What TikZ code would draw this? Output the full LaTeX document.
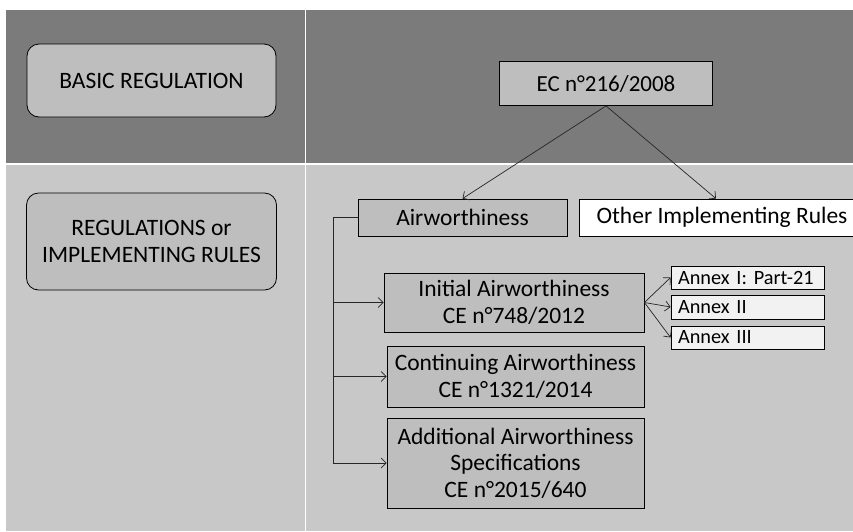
\documentclass[tikz,border=0pt]{standalone}
\usepackage{fontspec}
\setmainfont{Carlito}
\usetikzlibrary{arrows.meta,calc}
\definecolor{darkband}{HTML}{7A7B7A}
\definecolor{lightband}{HTML}{C8C8C8}
\definecolor{boxfill}{HTML}{BEBEBE}
\definecolor{annexfill}{HTML}{F2F2F2}
\tikzset{
  roundbox/.style={draw=black, line width=0.8pt, fill=boxfill, rounded corners=12pt, align=center, inner sep=0pt, font=\fontsize{23.5}{27}\selectfont},
  regbox/.style={draw=black, line width=0.8pt, fill=boxfill, align=center, inner sep=0pt, font=\fontsize{23.5}{26.5}\selectfont},
  annexbox/.style={draw=black, line width=0.8pt, fill=annexfill, inner sep=0pt, text width=139pt, align=left, font=\fontsize{20.3}{23}\selectfont},
  conn/.style={line width=0.7pt, draw=black!85},
  arr/.style={conn, -{Straight Barb[length=5pt,width=10pt]}}
}
\begin{document}
\begin{tikzpicture}[x=1pt,y=-1pt]
\useasboundingbox (0,0) rectangle (853,531);
\fill[white] (0,0) rectangle (853,531);
% bands
\fill[darkband] (6,10) rectangle (304.5,163);
\fill[darkband] (306,10) rectangle (853,163);
\fill[lightband] (6,165) rectangle (304.5,531);
\fill[lightband] (306,165) rectangle (853,531);
% left labels
\node[roundbox, minimum width=249pt, minimum height=73pt] (basic) at (151.5,80.5) {BASIC REGULATION};
\node[roundbox, minimum width=250pt, minimum height=97pt] (regs) at (151.5,241.5) {REGULATIONS or\\IMPLEMENTING RULES};
% tree
\node[regbox, minimum width=213pt, minimum height=44pt, font=\fontsize{23}{26}\selectfont] (ec) at (606,83.5) {EC n°216/2008};
\node[regbox, minimum width=209pt, minimum height=37pt] (air) at (462.5,217.5) {Airworthiness};
\node[regbox, fill=white, minimum width=286pt, minimum height=37pt] (other) at (722,217.5) {Other Implementing Rules};
\node[regbox, minimum width=260pt, minimum height=59pt] (init) at (514,302.5) {Initial Airworthiness\\CE n°748/2012};
\node[regbox, minimum width=257pt, minimum height=61pt] (cont) at (515.5,376.5) {Continuing Airworthiness\\CE n°1321/2014};
\node[regbox, minimum width=257pt, minimum height=90pt] (add) at (515.5,463) {Additional Airworthiness\\Specifications\\CE n°2015/640};
\node[annexbox, minimum width=153pt, minimum height=23pt] (a1) at (747.5,277.5) {Annex I: Part-21};
\node[annexbox, minimum width=153pt, minimum height=24pt] (a2) at (747.5,307) {Annex II};
\node[annexbox, minimum width=153pt, minimum height=23pt] (a3) at (747.5,337.5) {Annex III};
% connectors
\draw[arr] (ec.south) -- (air.north);
\coordinate (otherin) at ($(other.north)+(-6,0)$);
\draw[arr] (ec.south) -- (otherin);
\draw[arr] (air.west) -- ++(-24,0) coordinate (trunk) |- (add.west);
\draw[arr] (trunk |- init.west) -- (init.west);
\draw[arr] (trunk |- cont.west) -- (cont.west);
\draw[arr] (init.east) -- (a1.west);
\draw[arr] (init.east) -- (a2.west);
\draw[arr] (init.east) -- (a3.west);
\end{tikzpicture}
\end{document}
